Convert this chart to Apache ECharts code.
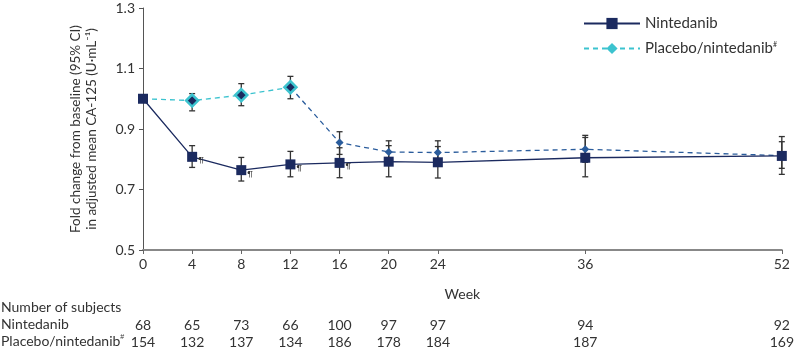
<!DOCTYPE html>
<html>
<head>
<meta charset="utf-8">
<script src="https://cdn.jsdelivr.net/npm/echarts@6/dist/echarts.min.js"></script>
<style>
	html, body { margin: 0; padding: 0; background: #fff; }
	#chart { width: 797px; height: 353px; }
</style>
</head>
<body>
<div id="chart"></div>
<script>
// 数据
var weeks = [0, 4, 8, 12, 16, 20, 24, 36, 52];
var yTicks = [0.5, 0.7, 0.9, 1.1, 1.3];

var ninMean = [1.00, 0.808, 0.764, 0.783, 0.788, 0.792, 0.790, 0.805, 0.811];
var ninLow  = [1.00, 0.773, 0.728, 0.742, 0.739, 0.742, 0.738, 0.742, 0.750];
var ninHigh = [1.00, 0.845, 0.806, 0.826, 0.838, 0.845, 0.842, 0.872, 0.875];
var ninMark = ['', '¶', '¶', '¶', '¶', '', '', '', ''];

var plaMean = [1.00, 0.994, 1.012, 1.038, 0.855, 0.824, 0.822, 0.833, 0.812];
var plaLow  = [1.00, 0.960, 0.977, 1.000, 0.816, 0.786, 0.784, 0.790, 0.770];
var plaHigh = [1.00, 1.017, 1.050, 1.074, 0.891, 0.861, 0.861, 0.879, 0.858];

var ninCount = [68, 65, 73, 66, 100, 97, 97, 94, 92];
var plaCount = [154, 132, 137, 134, 186, 178, 184, 187, 169];

var NAVY = '#1b2a5f';
var TEAL = '#3cc3cf';
var BLUE = '#2a5c9c';
var FONT = 'Lato';
var FS = 14;

var chart = echarts.init(document.getElementById('chart'));

function pairs(xs, ys, from, to) {
	var out = [];
	for (var i = from; i <= to; i++) out.push([xs[i], ys[i]]);
	return out;
}

function errData(lo, hi) {
	var out = [];
	for (var i = 0; i < weeks.length; i++) {
		if (lo[i] !== hi[i]) out.push([weeks[i], lo[i], hi[i]]);
	}
	return out;
}

// 误差线
function renderErr(params, api) {
	var lo = api.coord([api.value(0), api.value(1)]);
	var hi = api.coord([api.value(0), api.value(2)]);
	var w = 3;
	var st = { stroke: '#333', lineWidth: 1.3 };
	return {
		type: 'group',
		children: [
			{ type: 'line', shape: { x1: lo[0], y1: lo[1], x2: hi[0], y2: hi[1] }, style: st },
			{ type: 'line', shape: { x1: lo[0] - w, y1: lo[1], x2: lo[0] + w, y2: lo[1] }, style: st },
			{ type: 'line', shape: { x1: hi[0] - w, y1: hi[1], x2: hi[0] + w, y2: hi[1] }, style: st }
		]
	};
}

function countAxis(counts, offset) {
	return {
		type: 'value',
		gridIndex: 0,
		min: 0,
		max: 52,
		position: 'bottom',
		offset: offset,
		axisLine: { show: false },
		axisTick: { show: false },
		splitLine: { show: false },
		axisLabel: {
			customValues: weeks,
			margin: 0,
			color: '#333',
			fontFamily: FONT,
			fontSize: FS,
			formatter: function (v) {
				var i = weeks.indexOf(v);
				return i < 0 ? '' : String(counts[i]);
			}
		}
	};
}

var ninData = [];
for (var i = 0; i < weeks.length; i++) {
	var item = { value: [weeks[i], ninMean[i]] };
	if (ninMark[i]) {
		item.label = {
			show: true, formatter: ninMark[i], position: [11, 5],
			fontSize: 8, color: '#333', fontFamily: FONT
		};
	}
	ninData.push(item);
}

var plaEarly = pairs(weeks, plaMean, 0, 3);
plaEarly[0] = { value: plaEarly[0], symbol: 'none' };

var supRich = { sup: { fontSize: 7, verticalAlign: 'top', padding: [0, 0, 7, 0], color: '#333' } };

var option = {
	animation: false,
	textStyle: { fontFamily: FONT },
	grid: { left: 143, right: 11, top: 8, bottom: 103, containLabel: false },
	legend: {
		orient: 'vertical',
		left: 578,
		top: 11,
		itemWidth: 56,
		itemHeight: 14,
		itemGap: 10,
		textStyle: { color: '#333', fontSize: 15, fontFamily: FONT, rich: supRich },
		formatter: function (name) {
			return name === 'Placebo' ? 'Placebo/nintedanib{sup|#}' : name;
		},
		data: [
			{ name: 'Nintedanib', itemStyle: { color: NAVY } },
			{ name: 'Placebo', itemStyle: { color: TEAL, borderWidth: 0 } }
		]
	},
	xAxis: [
		{
			type: 'value',
			min: 0,
			max: 52,
			name: 'Week',
			nameLocation: 'middle',
			nameGap: 37,
			nameTextStyle: { color: '#333', fontSize: FS, fontFamily: FONT },
			axisLine: { show: true, lineStyle: { color: '#888', width: 2 } },
			axisTick: { show: true, customValues: weeks, length: 4, lineStyle: { color: '#666' } },
			splitLine: { show: false },
			axisLabel: { customValues: weeks, margin: 7, color: '#333', fontSize: FS, fontFamily: FONT }
		},
		countAxis(ninCount, 68),
		countAxis(plaCount, 85)
	],
	yAxis: {
		type: 'value',
		min: 0.5,
		max: 1.3,
		name: 'Fold change from baseline (95% CI)\nin adjusted mean CA-125 (U·mL⁻¹)',
		nameLocation: 'middle',
		nameGap: 43,
		nameTextStyle: { color: '#333', fontSize: 13.5, fontFamily: FONT, lineHeight: 16 },
		axisLine: { show: true, lineStyle: { color: '#555', width: 1 } },
		axisTick: { show: true, customValues: yTicks, length: 4, lineStyle: { color: '#555' } },
		splitLine: { show: false },
		axisLabel: {
			customValues: yTicks, margin: 8, color: '#333', fontSize: FS, fontFamily: FONT,
			formatter: function (v) { return v.toFixed(1); }
		}
	},
	graphic: [
		{ type: 'text', left: 1, top: 300, style: { text: 'Number of subjects', fill: '#333', font: FS + 'px ' + FONT } },
		{ type: 'text', left: 1, top: 317, style: { text: 'Nintedanib', fill: '#333', font: FS + 'px ' + FONT } },
		{
			type: 'text', left: 1, top: 334,
			style: {
				text: 'Placebo/nintedanib{sup|#}', fill: '#333', font: FS + 'px ' + FONT,
				rich: { sup: { fontSize: 7, verticalAlign: 'top', padding: [0, 0, 7, 0], fill: '#333' } }
			}
		}
	],
	series: [
		{
			name: 'errPla', type: 'custom', renderItem: renderErr, z: 2,
			data: errData(plaLow, plaHigh), encode: { x: 0, y: [1, 2] }
		},
		{
			name: 'errNin', type: 'custom', renderItem: renderErr, z: 2,
			data: errData(ninLow, ninHigh), encode: { x: 0, y: [1, 2] }
		},
		{
			name: 'PlaceboLate', type: 'line', z: 3,
			data: pairs(weeks, plaMean, 3, 8),
			symbol: 'diamond', symbolSize: 8,
			lineStyle: { color: BLUE, width: 1.3, type: [5, 4] },
			itemStyle: { color: BLUE }
		},
		{
			name: 'Placebo', type: 'line', z: 4,
			data: plaEarly,
			symbol: 'diamond', symbolSize: 12,
			lineStyle: { color: TEAL, width: 1.3, type: [5, 4] },
			itemStyle: { color: NAVY, borderColor: TEAL, borderWidth: 2.5 }
		},
		{
			name: 'Nintedanib', type: 'line', z: 5,
			data: ninData,
			symbol: 'rect', symbolSize: 10,
			lineStyle: { color: NAVY, width: 1.3 },
			itemStyle: { color: NAVY }
		}
	]
};

chart.setOption(option);
</script>
</body>
</html>
